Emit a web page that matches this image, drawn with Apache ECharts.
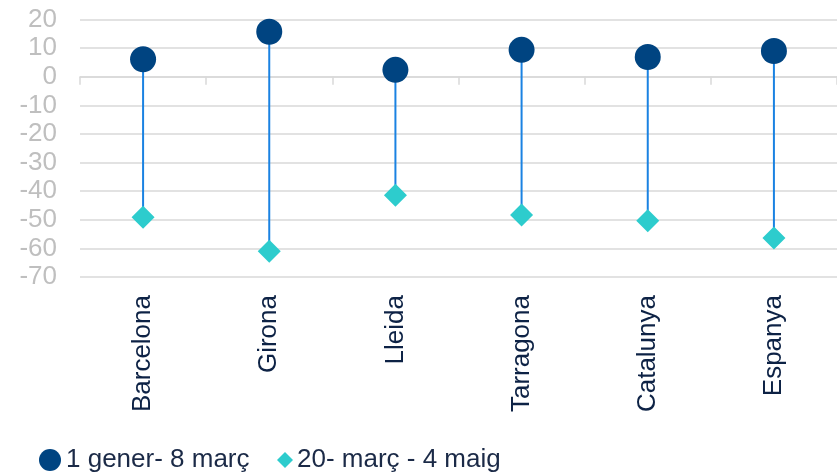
<!DOCTYPE html>
<html>
<head>
<meta charset="utf-8">
<script src="https://cdn.jsdelivr.net/npm/echarts@6/dist/echarts.min.js"></script>
<style>
  html, body { margin: 0; padding: 0; background: #fff; }
  #chart { width: 837px; height: 472px; }
</style>
</head>
<body>
<div id="chart"></div>
<script>
// Regions and their values for the two periods
const categories = ['Barcelona', 'Girona', 'Lleida', 'Tarragona', 'Catalunya', 'Espanya'];
const periodA = [6.1, 15.7, 2.4, 9.4, 6.9, 9.0];        // 1 gener- 8 març
const periodB = [-49.1, -61.0, -41.4, -48.3, -50.3, -56.4]; // 20- març - 4 maig
const seriesNames = ['1 gener- 8 març', '20- març - 4 maig'];
const yTicks = { min: -70, max: 20, interval: 10 };

const FONT = '"Liberation Sans", Arial, sans-serif';
const FONT_SIZE = 26;
const GRID_COLOR = '#d9d9d9';

const chart = echarts.init(document.getElementById('chart'), null, { renderer: 'canvas' });

// connector segments between the two periods for each region
const rangeData = categories.map((c, i) => [i, periodA[i], periodB[i]]);

chart.setOption({
  animation: false,
  textStyle: { fontFamily: FONT },
  grid: { left: 80, right: -8.6, top: 19.5, bottom: 195, containLabel: false },
  legend: [
    {
      left: 39, top: 447, padding: 0,
      itemWidth: 22, itemHeight: 22, itemGap: 20,
      textStyle: { fontFamily: FONT, fontSize: FONT_SIZE, color: '#1b2a47' },
      data: [{ name: seriesNames[0], icon: 'circle' }]
    },
    {
      left: 277, top: 447, padding: 0,
      itemWidth: 16, itemHeight: 16, itemGap: 20,
      textStyle: { fontFamily: FONT, fontSize: FONT_SIZE, color: '#1b2a47', padding: [0, 0, 0, -1] },
      data: [{ name: seriesNames[1], icon: 'diamond' }]
    }
  ],
  xAxis: [
    {
      // category names below the plot
      type: 'category',
      data: categories,
      position: 'bottom',
      axisLine: { show: false, onZero: false },
      axisTick: { show: false },
      axisLabel: {
        rotate: 90, margin: 18,
        fontFamily: FONT, fontSize: FONT_SIZE, color: '#0d2245'
      }
    },
    {
      // baseline at zero with boundary ticks pointing down
      type: 'category',
      data: categories,
      position: 'top',
      axisLine: { show: true, onZero: true, lineStyle: { color: GRID_COLOR, width: 1.5 } },
      axisTick: { show: true, inside: true, length: 8, lineStyle: { color: GRID_COLOR, width: 1.5 } },
      axisLabel: { show: false }
    }
  ],
  yAxis: {
    type: 'value',
    min: yTicks.min, max: yTicks.max, interval: yTicks.interval,
    axisLine: { show: false },
    axisTick: { show: false },
    splitLine: { lineStyle: { color: GRID_COLOR, width: 1.5 } },
    axisLabel: { margin: 23, fontFamily: FONT, fontSize: FONT_SIZE, color: '#bfbfbf' }
  },
  series: [
    {
      type: 'custom',
      xAxisIndex: 0,
      silent: true,
      data: rangeData,
      renderItem: function (params, api) {
        const p1 = api.coord([api.value(0), api.value(1)]);
        const p2 = api.coord([api.value(0), api.value(2)]);
        return {
          type: 'line',
          shape: { x1: p1[0], y1: p1[1], x2: p2[0], y2: p2[1] },
          style: { stroke: '#1a82e2', lineWidth: 2 }
        };
      },
      z: 1
    },
    {
      name: seriesNames[0],
      type: 'scatter',
      symbol: 'circle',
      symbolSize: 26,
      itemStyle: { color: '#004481', opacity: 1 },
      data: periodA,
      z: 3
    },
    {
      name: seriesNames[1],
      type: 'scatter',
      symbol: 'diamond',
      symbolSize: 23,
      itemStyle: { color: '#2dcccd', opacity: 1 },
      data: periodB,
      z: 3
    }
  ]
});
</script>
</body>
</html>
